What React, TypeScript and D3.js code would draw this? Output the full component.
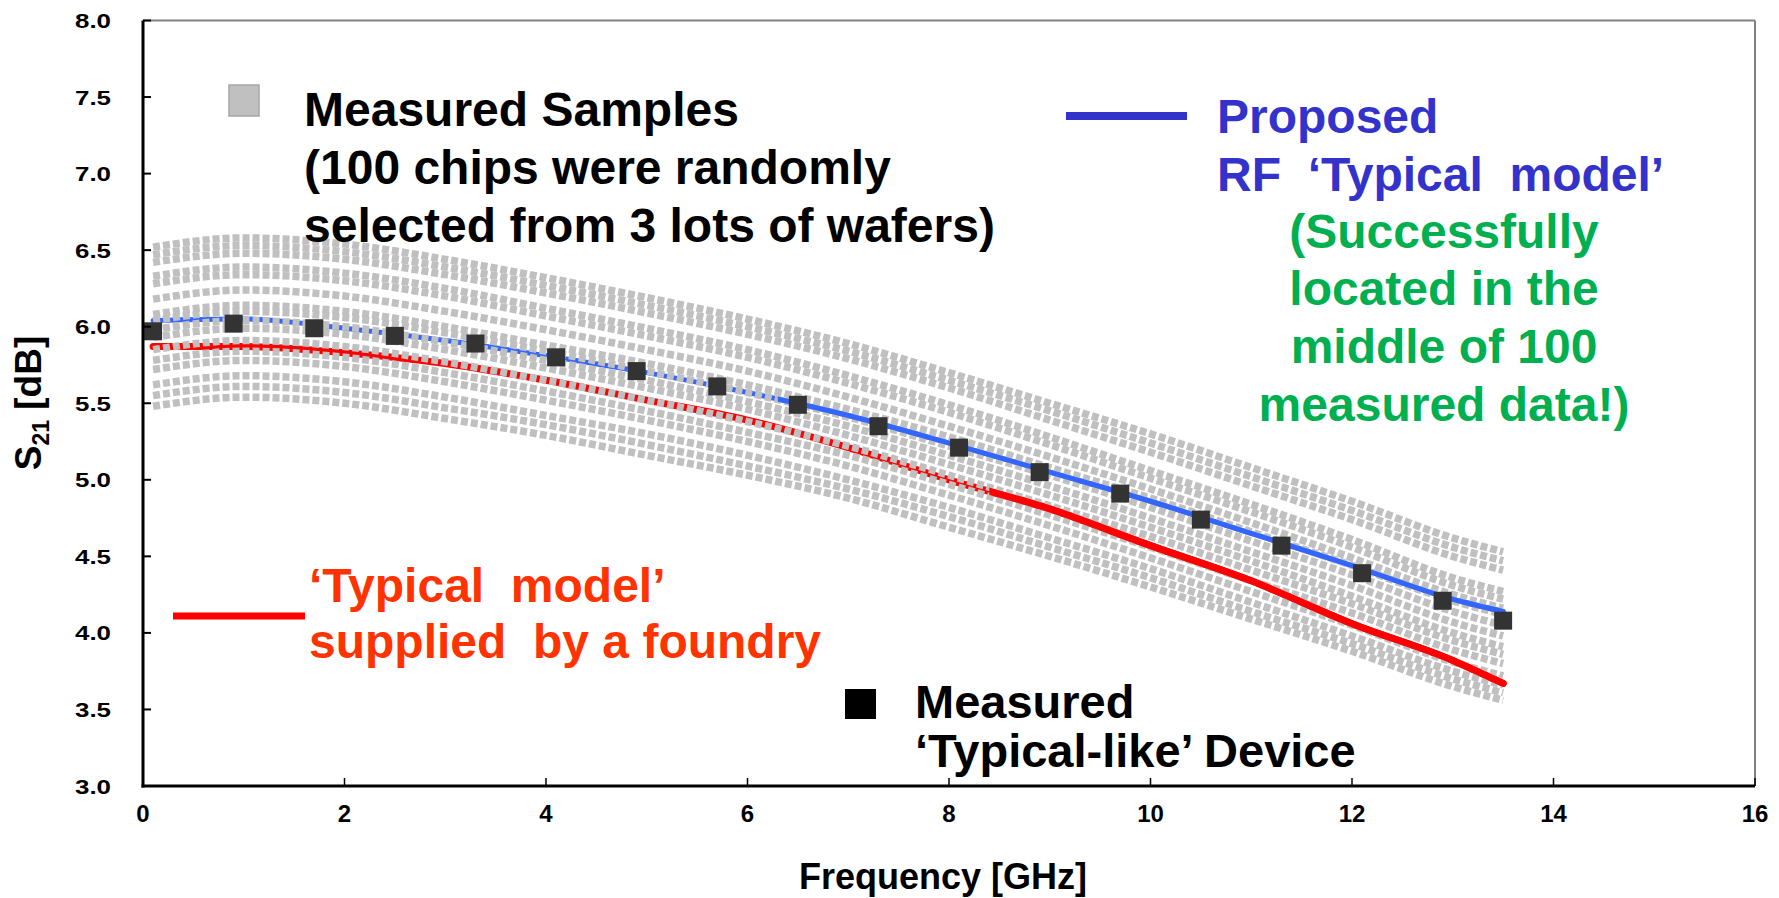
import React from "react";
import * as d3 from "d3";

const W = 1779;
const H = 898;

// x positions of model/sample values (GHz)
const FREQ = [0.1, 1, 2, 3, 4, 5, 6, 7, 8, 9, 10, 11, 12, 13, 13.5];

// Proposed RF typical model
const BLUE = [6.04, 6.05, 5.99, 5.91, 5.81, 5.7, 5.57, 5.42, 5.24, 5.05, 4.86, 4.65, 4.44, 4.22, 4.14];
// Foundry typical model
const RED = [5.87, 5.87, 5.83, 5.76, 5.65, 5.52, 5.39, 5.21, 5.0, 4.81, 4.57, 4.34, 4.06, 3.82, 3.67];

// Measured samples (gray)
const S01 = [6.52, 6.58, 6.54, 6.44, 6.32, 6.19, 6.05, 5.89, 5.7, 5.5, 5.3, 5.08, 4.86, 4.62, 4.53];
const S02 = [6.47, 6.53, 6.49, 6.39, 6.27, 6.14, 6.0, 5.84, 5.65, 5.45, 5.24, 5.02, 4.8, 4.56, 4.47];
const S03 = [6.42, 6.48, 6.44, 6.34, 6.22, 6.09, 5.95, 5.79, 5.6, 5.39, 5.18, 4.96, 4.74, 4.5, 4.41];
const S04 = [6.33, 6.39, 6.35, 6.25, 6.12, 5.99, 5.85, 5.68, 5.49, 5.28, 5.06, 4.84, 4.61, 4.36, 4.27];
const S05 = [6.28, 6.34, 6.3, 6.2, 6.07, 5.94, 5.8, 5.63, 5.44, 5.23, 5.01, 4.79, 4.56, 4.31, 4.22];
const S06 = [6.18, 6.24, 6.2, 6.1, 5.98, 5.85, 5.71, 5.54, 5.35, 5.15, 4.94, 4.72, 4.49, 4.25, 4.16];
const S07 = [6.08, 6.14, 6.1, 6.0, 5.88, 5.76, 5.62, 5.46, 5.28, 5.08, 4.88, 4.66, 4.44, 4.21, 4.12];
const S08 = [6.04, 6.1, 6.06, 5.96, 5.84, 5.71, 5.57, 5.41, 5.22, 5.03, 4.82, 4.6, 4.38, 4.14, 4.05];
const S09 = [5.98, 6.04, 6.0, 5.9, 5.78, 5.65, 5.51, 5.35, 5.16, 4.96, 4.75, 4.53, 4.31, 4.07, 3.98];
const S10 = [5.93, 5.99, 5.95, 5.85, 5.73, 5.6, 5.46, 5.29, 5.1, 4.9, 4.69, 4.47, 4.24, 4.0, 3.91];
const S11 = [5.85, 5.91, 5.87, 5.77, 5.65, 5.52, 5.38, 5.22, 5.03, 4.83, 4.63, 4.41, 4.19, 3.95, 3.86];
const S12 = [5.78, 5.84, 5.8, 5.7, 5.58, 5.45, 5.31, 5.16, 4.97, 4.77, 4.56, 4.34, 4.13, 3.89, 3.8];
const S13 = [5.72, 5.78, 5.74, 5.64, 5.52, 5.39, 5.25, 5.09, 4.9, 4.7, 4.49, 4.27, 4.05, 3.81, 3.72];
const S14 = [5.62, 5.68, 5.64, 5.54, 5.42, 5.3, 5.16, 5.0, 4.82, 4.62, 4.42, 4.2, 3.98, 3.75, 3.66];
const S15 = [5.55, 5.61, 5.57, 5.47, 5.36, 5.23, 5.09, 4.94, 4.76, 4.56, 4.36, 4.14, 3.93, 3.7, 3.61];
const S16 = [5.48, 5.54, 5.5, 5.4, 5.29, 5.16, 5.03, 4.88, 4.69, 4.5, 4.3, 4.09, 3.88, 3.65, 3.56];
const SAMPLES = [S01, S02, S03, S04, S05, S06, S07, S08, S09, S10, S11, S12, S13, S14, S15, S16];

// Measured typical-like device
const MEAS_F = [0.1, 0.9, 1.7, 2.5, 3.3, 4.1, 4.9, 5.7, 6.5, 7.3, 8.1, 8.9, 9.7, 10.5, 11.3, 12.1, 12.9, 13.5];
const MEAS_V = [5.97, 6.02, 5.99, 5.94, 5.89, 5.8, 5.71, 5.61, 5.49, 5.35, 5.21, 5.05, 4.91, 4.74, 4.57, 4.39, 4.21, 4.08];

const X_TICKS = [0, 2, 4, 6, 8, 10, 12, 14, 16];
const Y_TICKS = [3.0, 3.5, 4.0, 4.5, 5.0, 5.5, 6.0, 6.5, 7.0, 7.5, 8.0];

const FONT = "Arial, 'Liberation Sans', sans-serif";
const PRE: React.CSSProperties = { whiteSpace: "pre" };

export default function App() {
  const x = d3.scaleLinear().domain([0, 16]).range([143, 1755]);
  const y = d3.scaleLinear().domain([3, 8]).range([786, 20.5]);

  const line = d3
    .line<[number, number]>()
    .x((d) => x(d[0]))
    .y((d) => y(d[1]))
    .curve(d3.curveMonotoneX);

  const pts = (vals: number[]) => FREQ.map((f, i) => [f, vals[i]] as [number, number]);
  const bluePath = line(pts(BLUE)) || "";
  const redPath = line(pts(RED)) || "";

  const left = x(0);
  const right = x(16);
  const top = y(8);
  const bottom = y(3);
  const blueClipX = x(6.3);
  const redClipX = x(8.4);

  return (
    <svg
      width={W}
      height={H}
      style={{ position: "absolute", left: 0, top: 0, background: "#fff" }}
      fontFamily={FONT}
      fontWeight="bold"
    >
      <defs>
        <clipPath id="blueClip">
          <rect x={blueClipX} y={0} width={W - blueClipX} height={H} />
        </clipPath>
        <clipPath id="redClip">
          <rect x={redClipX} y={0} width={W - redClipX} height={H} />
        </clipPath>
      </defs>
      <rect x={0} y={0} width={W} height={H} fill="#fff" />

      {/* frame */}
      <line x1={left} y1={top} x2={right} y2={top} stroke="#808080" strokeWidth={2} />
      <line x1={right} y1={top} x2={right} y2={bottom} stroke="#808080" strokeWidth={2} />

      {/* model lines under the samples */}
      <path d={bluePath} fill="none" stroke="#3366ff" strokeWidth={5} strokeLinecap="round" />
      <path d={redPath} fill="none" stroke="#ff0000" strokeWidth={7} strokeLinecap="round" />

      {/* measured samples */}
      {SAMPLES.map((s, i) => (
        <path
          key={i}
          d={line(pts(s)) || ""}
          fill="none"
          stroke="#c0c0c0"
          strokeWidth={7.5}
          strokeDasharray="7 3"
        />
      ))}

      {/* model lines over samples at high frequency */}
      <path d={bluePath} clipPath="url(#blueClip)" fill="none" stroke="#3366ff" strokeWidth={5} strokeLinecap="round" />
      <path d={redPath} clipPath="url(#redClip)" fill="none" stroke="#ff0000" strokeWidth={7} strokeLinecap="round" />

      {/* measured typical-like device */}
      {MEAS_F.map((f, i) => (
        <rect
          key={i}
          x={x(f) - 9}
          y={y(MEAS_V[i]) - 9}
          width={18}
          height={18}
          fill="#333333"
        />
      ))}

      {/* axes */}
      <line x1={left} y1={top} x2={left} y2={bottom + 1.5} stroke="#000" strokeWidth={3} />
      <line x1={left - 1.5} y1={bottom} x2={right} y2={bottom} stroke="#000" strokeWidth={3} />
      {Y_TICKS.map((t) => (
        <g key={t}>
          <line x1={left} x2={left + 8} y1={y(t)} y2={y(t)} stroke="#000" strokeWidth={2} />
          <text
            x={111}
            y={y(t)}
            dy="0.36em"
            textAnchor="end"
            fontSize={21}
            fill="#000"
            textLength={36}
            lengthAdjust="spacingAndGlyphs"
          >
            {t.toFixed(1)}
          </text>
        </g>
      ))}
      {X_TICKS.map((t) => (
        <g key={t}>
          <line x1={x(t)} x2={x(t)} y1={bottom} y2={bottom - 8} stroke="#000" strokeWidth={1.5} />
          <text x={x(t)} y={822} textAnchor="middle" fontSize={24} fill="#000">
            {t}
          </text>
        </g>
      ))}

      {/* axis titles */}
      <text x={943} y={889} textAnchor="middle" fontSize={36} fill="#000">
        Frequency [GHz]
      </text>
      <text transform="translate(41,403) rotate(-90)" textAnchor="middle" fontSize={37} fill="#000">
        S<tspan fontSize={23} dy={8}>21</tspan>
        <tspan dy={-8}> [dB]</tspan>
      </text>

      {/* legend: measured samples */}
      <rect x={229} y={85} width={30} height={31} fill="#c0c0c0" stroke="#a6a6a6" strokeWidth={1.5} />
      <g fontSize={48} fill="#000">
        <text x={304} y={126}>Measured Samples</text>
        <text x={304} y={184}>(100 chips were randomly</text>
        <text x={304} y={242}>selected from 3 lots of wafers)</text>
      </g>

      {/* legend: proposed */}
      <line x1={1066} x2={1187} y1={116} y2={116} stroke="#3333cc" strokeWidth={8} />
      <g fontSize={48} fill="#3333cc">
        <text x={1217} y={133}>Proposed</text>
        <text x={1217} y={191} xmlSpace="preserve" style={PRE}>{"RF  \u2018Typical  model\u2019"}</text>
      </g>
      <g fontSize={48} fill="#00b050" textAnchor="middle">
        <text x={1444} y={248}>(Successfully</text>
        <text x={1444} y={305}>located in the</text>
        <text x={1444} y={363}>middle of 100</text>
        <text x={1444} y={421}>measured data!)</text>
      </g>

      {/* legend: foundry */}
      <line x1={173} x2={305} y1={616} y2={616} stroke="#ff0000" strokeWidth={7} />
      <g fontSize={48} fill="#ff3300">
        <text x={309} y={602} xmlSpace="preserve" style={PRE}>{"\u2018Typical  model\u2019"}</text>
        <text x={309} y={658} xmlSpace="preserve" style={PRE}>{"supplied  by a foundry"}</text>
      </g>

      {/* legend: measured device */}
      <rect x={845} y={689} width={31} height={30} fill="#000" />
      <g fontSize={47} fill="#000">
        <text x={915} y={718}>Measured</text>
        <text x={915} y={767}>{"\u2018Typical-like\u2019 Device"}</text>
      </g>
    </svg>
  );
}
